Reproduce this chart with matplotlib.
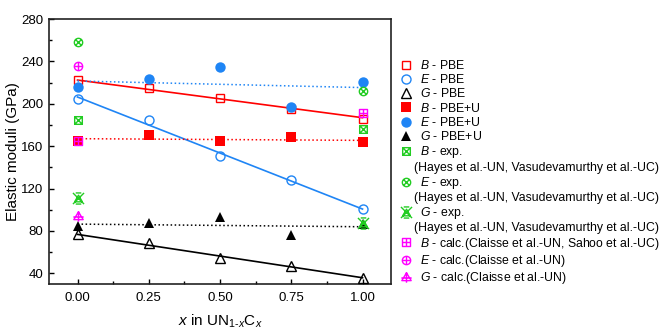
import numpy as np
import matplotlib
matplotlib.use("Agg")
import matplotlib.pyplot as plt
from matplotlib.path import Path
from matplotlib.lines import Line2D
from matplotlib.ticker import MultipleLocator, FormatStrFormatter

plt.rcParams['font.family'] = ['Liberation Sans', 'DejaVu Sans']
plt.rcParams['mathtext.fontset'] = 'custom'
plt.rcParams['mathtext.rm'] = 'Liberation Sans'
plt.rcParams['mathtext.it'] = 'Liberation Sans:italic'

# ---------------- data ----------------
x_all = [0.0, 0.25, 0.5, 0.75, 1.0]
B_PBE = [222, 214.6, 205.4, 195, 186]
E_PBE = [205, 184.4, 150.4, 128, 101]
G_PBE = [77, 68.6, 55, 47, 36]
B_PBEU = [165, 171, 165, 168.3, 164]
E_PBEU = [215.5, 223, 234.7, 197.3, 220.5]
G_PBEU = [84.7, 87.8, 93.5, 76.2, 86.5]

x_ends = [0.0, 1.0]
B_exp = [185, 176]
E_exp = [258, 212.5]
G_exp = [111.5, 87.5]
B_calc = [165, 191]
x_calc0 = [0.0]
E_calc = [236]
G_calc = [94]

# linear trend lines (values at x=0 and x=1)
fit_B_PBE = [222.4, 186.9]
fit_E_PBE = [206.4, 100.7]
fit_G_PBE = [76.8, 35.9]
fit_B_PBEU = [167.1, 165.5]
fit_E_PBEU = [221.5, 215.3]
fit_G_PBEU = [86.5, 84.0]

x_ticks = [0.0, 0.25, 0.5, 0.75, 1.0]
y_ticks = [40, 80, 120, 160, 200, 240, 280]

# ---------------- marker paths ----------------
M, L, C = Path.MOVETO, Path.LINETO, Path.CLOSEPOLY

def seg(p0, p1):
    return Path([p0, p1], [M, L])

sq = Path([(-1, -1), (1, -1), (1, 1), (-1, 1), (-1, -1)], [M, L, L, L, C])
circ = Path.unit_circle()
d = 0.707
sq_x = Path.make_compound_path(sq, seg((-1, -1), (1, 1)), seg((-1, 1), (1, -1)))
circ_x = Path.make_compound_path(circ, seg((-d, -d), (d, d)), seg((-d, d), (d, -d)))
star_x = Path.make_compound_path(
    Path([(-0.7, -0.6), (0.7, -0.6), (0, 0.6), (-0.7, -0.6)], [M, L, L, C]),
    seg((-1, -1), (1, 1)), seg((-1, 1), (1, -1)),
    seg((-0.5, 1), (0.5, 1)), seg((-0.5, -1), (0.5, -1)))
sq_p = Path.make_compound_path(sq, seg((-1, 0), (1, 0)), seg((0, -1), (0, 1)))
circ_p = Path.make_compound_path(circ, seg((-1, 0), (1, 0)), seg((0, -1), (0, 1)))
tri_p = Path.make_compound_path(
    Path([(-0.9, -0.6), (0.9, -0.6), (0, 0.9), (-0.9, -0.6)], [M, L, L, C]),
    seg((0, -1), (0, 1)), seg((-1, -0.1), (1, -0.1)))

red = '#ff0000'
blue = '#1f85f5'
black = '#000000'
green = '#22cc22'
mag = '#ff00ff'

fig = plt.figure(figsize=(6.71, 3.33), dpi=100)
ax = fig.add_axes([49 / 671, 1 - 284 / 333, 342 / 671, 265 / 333])

# trend lines
ax.plot(x_ends, fit_B_PBE, '-', color=red, lw=1.2, zorder=2)
ax.plot(x_ends, fit_E_PBE, '-', color=blue, lw=1.2, zorder=2)
ax.plot(x_ends, fit_G_PBE, '-', color=black, lw=1.2, zorder=2)
ax.plot(x_ends, fit_B_PBEU, ':', color=red, lw=1.1, zorder=2)
ax.plot(x_ends, fit_E_PBEU, ':', color=blue, lw=1.1, zorder=2)
ax.plot(x_ends, fit_G_PBEU, ':', color=black, lw=1.1, zorder=2)

ms = 6
kw_open = dict(linestyle='none', markerfacecolor='none', markeredgewidth=1.0, zorder=3)
h = []
h += ax.plot(x_all, B_PBE, marker='s', color=red, markersize=ms, label='$B$ - PBE', **kw_open)
h += ax.plot(x_all, E_PBE, marker='o', color=blue, markersize=ms + 0.5, label='$E$ - PBE', **kw_open)
h += ax.plot(x_all, G_PBE, marker='^', color=black, markersize=ms + 0.5, label='$G$ - PBE', **kw_open)
kw_fill = dict(linestyle='none', markeredgewidth=0, zorder=3)
h += ax.plot(x_all, B_PBEU, marker='s', color=red, markersize=ms + 0.5, label='$B$ - PBE+U', **kw_fill)
h += ax.plot(x_all, E_PBEU, marker='o', color=blue, markersize=ms + 1.5, label='$E$ - PBE+U', **kw_fill)
h += ax.plot(x_all, G_PBEU, marker='^', color=black, markersize=ms + 1.5, label='$G$ - PBE+U', **kw_fill)

ref_text = '(Hayes et al.-UN, Vasudevamurthy et al.-UC)'


def blank():
    return Line2D([], [], linestyle='none', marker='None', label=ref_text)


h += ax.plot(x_ends, B_exp, marker=sq_x, color=green, markersize=ms - 0.5,
             label='$B$ - exp.', **kw_open)
h.append(blank())
h += ax.plot(x_ends, E_exp, marker=circ_x, color=green, markersize=ms,
             label='$E$ - exp.', **kw_open)
h.append(blank())
h += ax.plot(x_ends, G_exp, marker=star_x, color=green, markersize=ms + 2,
             label='$G$ - exp.', **kw_open)
h.append(blank())
h += ax.plot(x_ends, B_calc, marker=sq_p, color=mag, markersize=ms - 0.5,
             label='$B$ - calc.(Claisse et al.-UN, Sahoo et al.-UC)', **kw_open)
h += ax.plot(x_calc0, E_calc, marker=circ_p, color=mag, markersize=ms,
             label='$E$ - calc.(Claisse et al.-UN)', **kw_open)
h += ax.plot(x_calc0, G_calc, marker=tri_p, color=mag, markersize=ms + 1.5,
             label='$G$ - calc.(Claisse et al.-UN)', **kw_open)

ax.set_xlim(-0.1, 1.1)
ax.set_ylim(30, 280)
ax.set_xticks(x_ticks)
ax.set_yticks(y_ticks)
ax.xaxis.set_major_formatter(FormatStrFormatter('%.2f'))
ax.xaxis.set_minor_locator(MultipleLocator(0.125))
ax.yaxis.set_minor_locator(MultipleLocator(20))
ax.tick_params(which='both', direction='in', top=False, right=False, labelsize=9.5, width=1.0)
ax.tick_params(which='major', length=3.5)
ax.tick_params(which='minor', length=2.5)
ax.tick_params(axis='x', which='major', pad=6)
ax.tick_params(axis='y', which='major', pad=4)
for s in ax.spines.values():
    s.set_linewidth(1.2)
    s.set_color('#222222')

ax.set_ylabel('Elastic moduli (GPa)', fontsize=11, labelpad=1)
ax.set_xlabel(r'$x$ in UN$_{1\text{-}x}$C$_x$', fontsize=11, labelpad=6)

leg = fig.legend(handles=h, labels=[x.get_label() for x in h],
                 loc='upper left', bbox_to_anchor=(400 / 671, 1 - 59 / 333),
                 frameon=False, fontsize=8.8, handlelength=1.0, handletextpad=0.6,
                 labelspacing=0.1, borderpad=0, borderaxespad=0)
# continuation lines start slightly left of the entry text
for t in leg.get_texts():
    if t.get_text() == ref_text:
        t.set_x(-6)

fig.savefig('out.png', dpi=100)
